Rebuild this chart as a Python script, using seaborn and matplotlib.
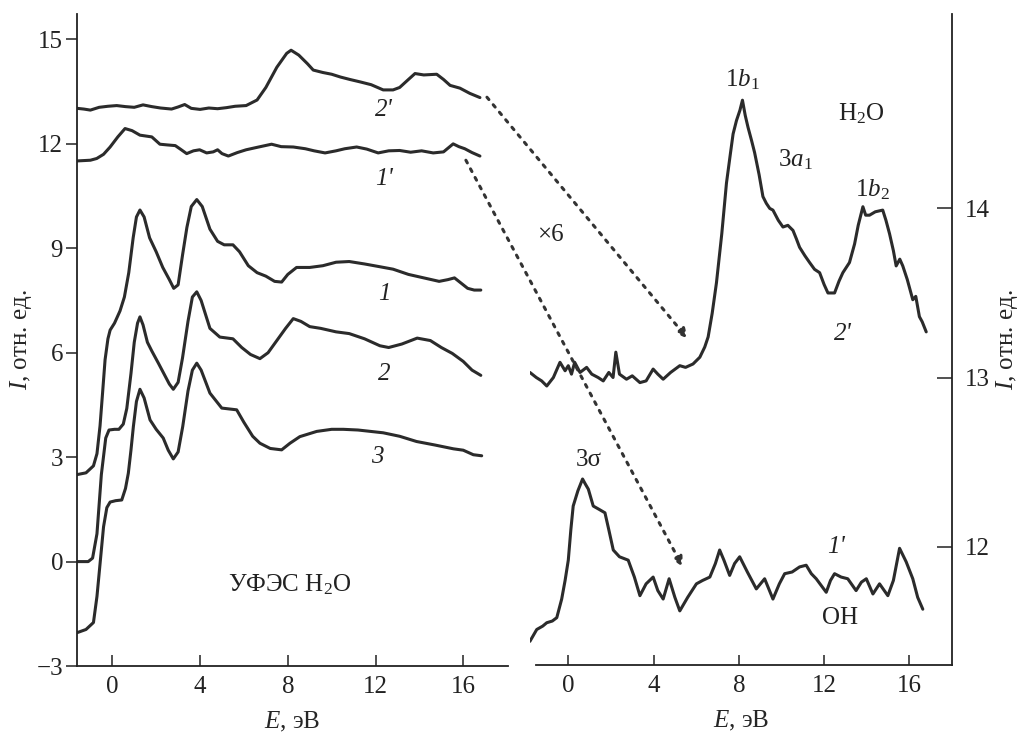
import matplotlib
matplotlib.use("Agg")
import matplotlib.pyplot as plt
from matplotlib.patches import ConnectionPatch
import seaborn as sns

# ---------------- left panel: UPS spectra ----------------
x1 = [-1.6, -1.2, -0.86, -0.7, -0.56, -0.45, -0.33, -0.2, -0.1, 0.1, 0.35, 0.55, 0.75, 0.95, 1.1, 1.26,
      1.45, 1.7, 2.0, 2.3, 2.6, 2.8, 3.0, 3.2, 3.4, 3.6, 3.85, 4.1, 4.45, 4.8, 5.1, 5.5, 5.8, 6.2, 6.6,
      7.0, 7.4, 7.72, 8.0, 8.4, 9.0, 9.6, 10.2, 10.8, 11.5, 12.2, 12.8, 13.5, 14.2, 14.9, 15.3, 15.6,
      15.9, 16.2, 16.5, 16.8]
y1 = [2.5, 2.55, 2.75, 3.1, 3.9, 4.8, 5.8, 6.4, 6.65, 6.85, 7.2, 7.6, 8.3, 9.3, 9.9, 10.1,
      9.9, 9.3, 8.9, 8.45, 8.1, 7.85, 7.95, 8.8, 9.6, 10.2, 10.4, 10.2, 9.55, 9.2, 9.1, 9.1, 8.9, 8.5, 8.3,
      8.2, 8.05, 8.03, 8.25, 8.45, 8.45, 8.5, 8.6, 8.62, 8.55, 8.47, 8.4, 8.25, 8.15, 8.05, 8.1, 8.15,
      8.0, 7.85, 7.8, 7.8]

x2 = [-1.6, -1.1, -0.9, -0.7, -0.5, -0.3, -0.15, 0.1, 0.3, 0.5, 0.66, 0.85, 1.0, 1.15, 1.26, 1.4, 1.6,
      1.8, 2.1, 2.35, 2.6, 2.78, 3.0, 3.2, 3.45, 3.65, 3.85, 4.05, 4.45, 4.9, 5.5, 5.9, 6.3, 6.73, 7.1,
      7.5, 7.9, 8.25, 8.6, 9.0, 9.5, 10.2, 10.8, 11.5, 12.2, 12.6, 13.2, 13.9, 14.5, 15.0, 15.5, 16.0,
      16.4, 16.8]
y2 = [0.0, 0.0, 0.1, 0.8, 2.5, 3.55, 3.78, 3.8, 3.8, 3.95, 4.4, 5.4, 6.3, 6.85, 7.03, 6.8, 6.3,
      6.05, 5.7, 5.4, 5.1, 4.95, 5.15, 5.85, 6.9, 7.6, 7.75, 7.5, 6.7, 6.45, 6.4, 6.15, 5.95, 5.83, 6.0,
      6.35, 6.7, 6.98, 6.9, 6.75, 6.7, 6.6, 6.55, 6.4, 6.2, 6.15, 6.25, 6.42, 6.35, 6.15, 5.98, 5.75,
      5.5, 5.35]

x3 = [-1.6, -1.2, -0.86, -0.7, -0.55, -0.4, -0.25, -0.1, 0.15, 0.43, 0.6, 0.73, 0.85, 0.96, 1.1, 1.26,
      1.45, 1.72, 2.0, 2.32, 2.55, 2.78, 3.0, 3.21, 3.45, 3.65, 3.85, 4.05, 4.45, 4.99, 5.67, 6.0, 6.4,
      6.73, 7.2, 7.72, 8.1, 8.55, 9.32, 10.0, 10.53, 11.2, 12.35, 13.1, 13.87, 14.7, 15.55, 16.0,
      16.46, 16.84]
y3 = [-2.04, -1.95, -1.75, -1.0, 0.0, 1.0, 1.55, 1.71, 1.75, 1.77, 2.1, 2.54, 3.2, 3.88, 4.6, 4.95,
      4.7, 4.07, 3.8, 3.55, 3.2, 2.95, 3.15, 3.88, 4.9, 5.5, 5.7, 5.5, 4.84, 4.41, 4.36, 4.0, 3.6,
      3.4, 3.25, 3.21, 3.4, 3.59, 3.74, 3.8, 3.8, 3.78, 3.7, 3.6, 3.45, 3.35, 3.24, 3.2,
      3.07, 3.04]

x2p = [-1.6, -1.3, -1.0, -0.6, -0.2, 0.2, 0.6, 1.0, 1.4, 1.8, 2.2, 2.7, 3.0, 3.3, 3.6, 4.0, 4.4, 4.8,
       5.2, 5.6, 6.1, 6.6, 7.0, 7.5, 7.95, 8.15, 8.5, 8.9, 9.16, 9.6, 10.0, 10.4, 10.83, 11.3, 11.8,
       12.35, 12.8, 13.1, 13.5, 13.8, 14.2, 14.79, 15.1, 15.4, 15.85, 16.3, 16.76]
y2p = [13.02, 13.0, 12.97, 13.05, 13.08, 13.1, 13.07, 13.05, 13.12, 13.07, 13.03, 13.0, 13.06, 13.13,
       13.02, 12.99, 13.03, 13.01, 13.04, 13.08, 13.1, 13.26, 13.62, 14.2, 14.6, 14.69, 14.55, 14.3,
       14.12, 14.05, 14.0, 13.92, 13.85, 13.78, 13.7, 13.55, 13.55, 13.62, 13.85, 14.02, 13.98, 14.0,
       13.85, 13.68, 13.6, 13.45, 13.33]

x1p = [-1.6, -1.0, -0.71, -0.4, -0.1, 0.25, 0.58, 0.9, 1.26, 1.8, 2.17, 2.5, 2.87, 3.1, 3.39, 3.7,
       3.98, 4.3, 4.6, 4.8, 5.0, 5.29, 5.7, 6.1, 6.6, 7.26, 7.7, 8.25, 8.8, 9.2, 9.7, 10.2, 10.6,
       11.14, 11.6, 12.12, 12.6, 13.1, 13.6, 14.1, 14.63, 15.1, 15.54, 15.8, 16.07, 16.4, 16.76]
y1p = [11.51, 11.53, 11.58, 11.7, 11.91, 12.2, 12.44, 12.38, 12.25, 12.2, 11.99, 11.97, 11.95, 11.85,
       11.72, 11.8, 11.83, 11.74, 11.77, 11.83, 11.72, 11.65, 11.75, 11.83, 11.9, 11.99, 11.92, 11.91,
       11.86, 11.8, 11.74, 11.8, 11.86, 11.91, 11.85, 11.74, 11.8, 11.81, 11.76, 11.8, 11.74, 11.77,
       12.0, 11.92, 11.86, 11.75, 11.65]

# ---------------- right panel: x6 difference spectra ----------------
xh = [-1.8, -1.5, -1.25, -1.01, -0.7, -0.39, -0.15, 0.0, 0.15, 0.3, 0.55, 0.86, 1.1, 1.4, 1.64, 1.9,
      2.1, 2.23, 2.4, 2.73, 3.0, 3.36, 3.65, 3.98, 4.2, 4.45, 4.8, 5.23, 5.5, 5.85, 6.17, 6.4, 6.56,
      6.75, 6.95, 7.2, 7.42, 7.6, 7.73, 7.89, 8.05, 8.17, 8.3, 8.43, 8.6, 8.74, 8.95, 9.13, 9.29, 9.45,
      9.6, 9.85, 10.07, 10.3, 10.54, 10.7, 10.85, 11.1, 11.32, 11.55, 11.79, 12.0, 12.18, 12.49, 12.7,
      12.88, 13.19, 13.43, 13.6, 13.82, 13.95, 14.13, 14.4, 14.75, 14.9, 15.07, 15.25, 15.38, 15.55,
      15.69, 15.9, 16.16, 16.3, 16.47, 16.6, 16.79]
yh = [13.03, 13.0, 12.98, 12.95, 13.0, 13.09, 13.04, 13.07, 13.02, 13.09, 13.03, 13.06, 13.02, 13.0,
      12.98, 13.03, 13.0, 13.15, 13.02, 12.99, 13.01, 12.97, 12.98, 13.05, 13.02, 12.99, 13.03, 13.07,
      13.06, 13.08, 13.12, 13.18, 13.24, 13.38, 13.56, 13.85, 14.15, 14.32, 14.44, 14.52, 14.58, 14.64,
      14.55, 14.48, 14.40, 14.33, 14.2, 14.07, 14.03, 14.0, 13.99, 13.93, 13.89, 13.9, 13.87, 13.82,
      13.77, 13.72, 13.68, 13.64, 13.62, 13.55, 13.5, 13.5, 13.57, 13.62, 13.68, 13.79, 13.9, 14.01,
      13.96, 13.96, 13.98, 13.99, 13.93, 13.85, 13.75, 13.66, 13.7, 13.66, 13.58, 13.46, 13.48, 13.36,
      13.33, 13.27]

xo = [-1.8, -1.48, -1.2, -1.01, -0.75, -0.54, -0.31, -0.15, 0.0, 0.12, 0.23, 0.45, 0.67, 0.8, 0.94,
      1.17, 1.45, 1.72, 1.9, 2.11, 2.4, 2.81, 3.1, 3.36, 3.65, 3.98, 4.2, 4.45, 4.73, 5.0, 5.23, 5.6,
      6.01, 6.3, 6.64, 6.9, 7.1, 7.3, 7.57, 7.8, 8.04, 8.4, 8.82, 9.21, 9.6, 9.9, 10.15, 10.5, 10.85,
      11.16, 11.4, 11.63, 12.1, 12.3, 12.49, 12.8, 13.11, 13.5, 13.75, 13.98, 14.29, 14.6, 14.99,
      15.25, 15.54, 15.85, 16.16, 16.39, 16.63]
yo = [11.44, 11.51, 11.53, 11.55, 11.56, 11.58, 11.69, 11.8, 11.92, 12.1, 12.24, 12.33, 12.40, 12.37,
      12.34, 12.24, 12.22, 12.20, 12.1, 11.98, 11.94, 11.92, 11.82, 11.71, 11.78, 11.82, 11.74, 11.69,
      11.81, 11.7, 11.62, 11.7, 11.78, 11.8, 11.82, 11.9, 11.98, 11.92, 11.83, 11.9, 11.94, 11.85,
      11.75, 11.81, 11.69, 11.78, 11.84, 11.85, 11.88, 11.89, 11.84, 11.81, 11.73, 11.8, 11.84, 11.82,
      11.81, 11.74, 11.79, 11.81, 11.72, 11.78, 11.71, 11.8, 11.99, 11.91, 11.81, 11.70, 11.63]

left_yticks = [-3, 0, 3, 6, 9, 12, 15]
right_yticks = [12, 13, 14]
xticks = [0, 4, 8, 12, 16]

# ---------------- style ----------------
sns.set_style("ticks")
plt.rcParams['font.family'] = ['Liberation Serif', 'DejaVu Serif']
plt.rcParams['mathtext.fontset'] = 'custom'
plt.rcParams['mathtext.rm'] = 'Liberation Serif'
plt.rcParams['mathtext.it'] = 'Liberation Serif:italic'
plt.rcParams['axes.linewidth'] = 1.3
plt.rcParams['axes.edgecolor'] = '#222222'

LC = '#2b2b2b'
FS = 18

fig = plt.figure(figsize=(10.24, 7.34), dpi=100)
axL = fig.add_axes([0.0752, 0.0926, 0.4209, 0.8883])
axR = fig.add_axes([0.5175, 0.094, 0.4122, 0.887])

for xs, ys in [(x1, y1), (x2, y2), (x3, y3), (x2p, y2p), (x1p, y1p)]:
    sns.lineplot(x=xs, y=ys, ax=axL, color=LC, lw=2.2)
for xs, ys in [(xh, yh), (xo, yo)]:
    sns.lineplot(x=xs, y=ys, ax=axR, color=LC, lw=2.2)

# left axes
axL.set_xlim(-1.61, 18.04)
axL.set_ylim(-3, 15.73)
axL.set_xticks(xticks)
axL.set_yticks(left_yticks)
axL.set_yticklabels(['\u22123' if v < 0 else str(v) for v in left_yticks])
axL.spines['top'].set_visible(False)
axL.spines['right'].set_visible(False)
axL.tick_params(axis='x', direction='in', length=8, width=1.1, pad=7, labelsize=FS, colors='#222222')
axL.tick_params(axis='y', direction='out', length=8, width=1.1, pad=2, labelsize=FS, colors='#222222')
axL.set_xlabel('$E$, эВ', fontsize=FS, labelpad=9)
axL.set_ylabel('$I$, отн. ед.', fontsize=FS, labelpad=2)

# right axes
axR.set_xlim(-1.8, 18.0)
axR.set_ylim(11.3, 15.15)
axR.set_xticks(xticks)
axR.set_yticks(right_yticks)
axR.spines['top'].set_visible(False)
axR.spines['left'].set_visible(False)
axR.spines['bottom'].set_bounds(-1.5, 18.0)
axR.yaxis.set_ticks_position('right')
axR.yaxis.set_label_position('right')
axR.tick_params(axis='x', direction='in', length=7, width=1.1, pad=7, labelsize=FS, colors='#222222')
axR.tick_params(axis='y', direction='in', length=11, width=1.1, pad=9, labelsize=FS, colors='#222222')
axR.set_xlabel('$E$, эВ', fontsize=FS, labelpad=9)
axR.set_ylabel('$I$, отн. ед.', fontsize=FS, rotation=90, labelpad=3)

# curve labels, left
for tx, ty, s in [(12.4, 12.97, "2'"), (12.4, 11.0, "1'"), (12.4, 7.7, "1"),
                  (12.4, 5.4, "2"), (12.1, 3.0, "3")]:
    axL.text(tx, ty, s, fontsize=FS, style='italic', ha='center', va='center', color='#222222')
axL.text(8.1, -0.67, 'УФЭС H$_2$O', fontsize=FS, ha='center', va='center', color='#222222')

# curve labels, right
for tx, ty, s in [(8.17, 14.76, '1$b_1$'), (13.74, 14.56, 'H$_2$O'), (10.67, 14.29, '3$a_1$'),
                  (14.27, 14.11, '1$b_2$'), (-0.86, 13.84, '×6'), (0.94, 12.51, '3σ'),
                  (12.73, 11.58, 'OH')]:
    axR.text(tx, ty, s, fontsize=FS, ha='center', va='center', color='#222222')
axR.text(12.88, 13.26, "2'", fontsize=FS, style='italic', ha='center', va='center', color='#222222')
axR.text(12.57, 12.0, "1'", fontsize=FS, style='italic', ha='center', va='center', color='#222222')

# dotted arrows from left spectra into right panel
for (xa, ya), (xb, yb) in [((17.08, 13.34), (5.6, 13.23)), ((16.12, 11.53), (5.37, 11.88))]:
    con = ConnectionPatch(xyA=(xa, ya), coordsA=axL.transData, xyB=(xb, yb), coordsB=axR.transData,
                          arrowstyle='-|>', mutation_scale=14, linestyle=(0, (1, 2.2)),
                          lw=2.2, color='#333333')
    fig.add_artist(con)

fig.savefig('out.png', dpi=100)
